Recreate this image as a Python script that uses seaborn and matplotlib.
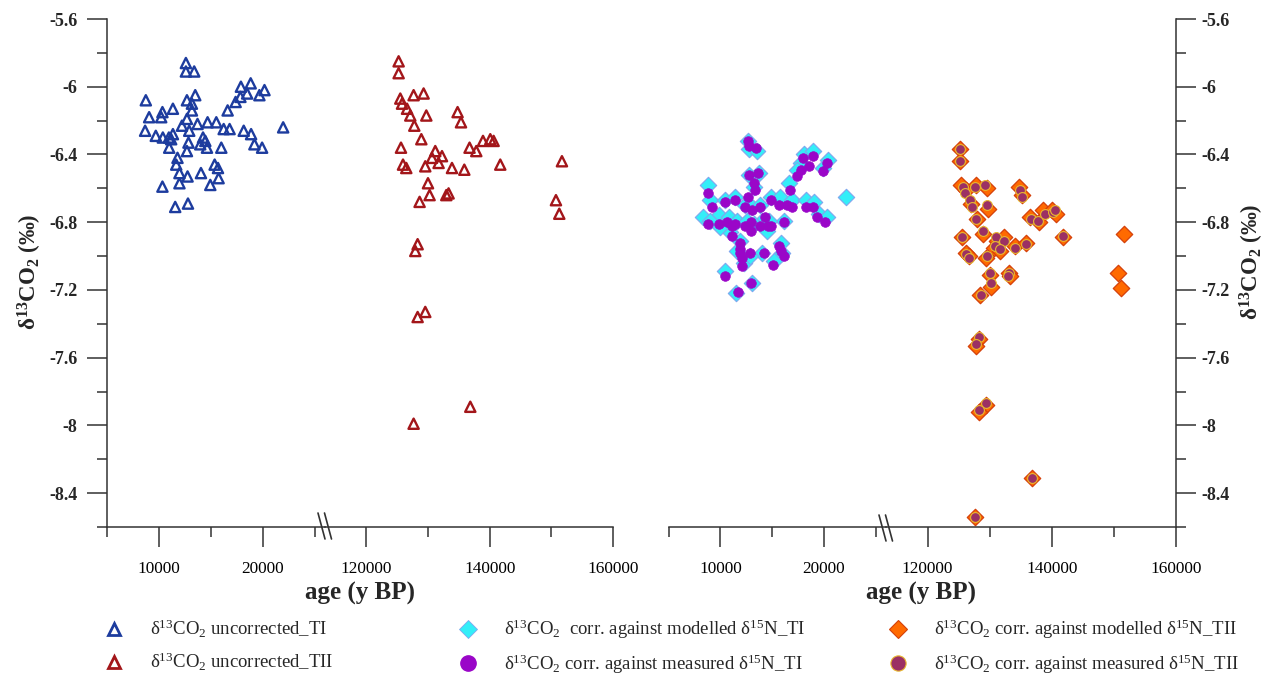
import matplotlib
matplotlib.use("Agg")
import matplotlib.pyplot as plt
from matplotlib.lines import Line2D
from matplotlib.ticker import FuncFormatter
import seaborn as sns

# ----- DATA -----
ti_unc_age = [12600, 12600, 13400, 8740, 17900, 18840, 20170, 19680, 18500, 17850,
              17390, 16620, 13500, 12700, 13180, 13180, 12700, 11350, 10340, 10220,
              9060, 8670, 9700, 10380, 10960, 11350, 10990, 12220, 12920, 13720,
              14690, 15530, 16240, 16810, 18170, 18880, 19200, 19940, 21970, 14250,
              14470, 13980, 14630, 16010, 12850, 12700, 11790, 11670, 15370, 15690,
              11980, 12760, 14050, 15750, 11980, 14950, 10340, 11570, 12800, 11180]
ti_unc_d13c = [-5.86, -5.91, -5.91, -6.08, -6.00, -5.98, -6.02, -6.05, -6.04, -6.06,
               -6.09, -6.14, -6.05, -6.08, -6.10, -6.14, -6.19, -6.13, -6.15, -6.18,
               -6.18, -6.26, -6.29, -6.30, -6.30, -6.28, -6.36, -6.23, -6.26, -6.22,
               -6.21, -6.21, -6.25, -6.25, -6.26, -6.28, -6.34, -6.36, -6.24, -6.30,
               -6.32, -6.34, -6.36, -6.36, -6.33, -6.38, -6.42, -6.46, -6.46, -6.48,
               -6.51, -6.53, -6.51, -6.54, -6.57, -6.58, -6.59, -6.71, -6.69, -6.31]

tii_unc_age = [125240, 125240, 125510, 125790, 127670, 129290, 126600, 127130, 129730, 127780,
               128920, 125620, 134800, 135350, 136740, 137830, 138920, 140100, 140640, 131180,
               130650, 132270, 131720, 129560, 125950, 126480, 133890, 135890, 141720, 151720,
               130000, 130260, 128640, 133340, 132970, 150750, 151290, 128320, 127940, 129560,
               128320, 136860, 127670]
tii_unc_d13c = [-5.85, -5.92, -6.07, -6.10, -6.05, -6.04, -6.13, -6.17, -6.17, -6.23,
                -6.31, -6.36, -6.15, -6.21, -6.36, -6.38, -6.32, -6.31, -6.32, -6.38,
                -6.42, -6.41, -6.45, -6.47, -6.46, -6.48, -6.48, -6.49, -6.46, -6.44,
                -6.57, -6.64, -6.68, -6.63, -6.64, -6.67, -6.75, -6.93, -6.97, -7.33,
                -7.36, -7.89, -7.99]

ti_mod_age = [12640, 12740, 13550, 18080, 18990, 20410, 19870, 17760, 17370, 12740,
              13710, 13220, 16620, 8760, 9020, 10480, 11450, 12420, 13070, 14850,
              15750, 16950, 18240, 19050, 19540, 20280, 8370, 9830, 10800, 11610,
              12580, 14040, 14530, 16140, 10960, 11930, 11610, 15820, 15980, 14040,
              15170, 12250, 12900, 10480, 13070, 11540, 22130, 13220, 13870, 14680,
              9990, 9020]
ti_mod_d13c = [-6.32, -6.37, -6.38, -6.40, -6.38, -6.43, -6.48, -6.45, -6.49, -6.52,
               -6.51, -6.59, -6.57, -6.58, -6.67, -6.67, -6.65, -6.70, -6.71, -6.65,
               -6.65, -6.67, -6.67, -6.68, -6.75, -6.77, -6.77, -6.76, -6.77, -6.79,
               -6.79, -6.79, -6.85, -6.79, -6.86, -6.91, -6.97, -6.92, -6.98, -6.98,
               -7.03, -7.04, -7.00, -7.09, -7.16, -7.22, -6.65, -6.81, -6.70, -6.79,
               -6.83, -6.79]

ti_meas_age = [12640, 12740, 13490, 18020, 18920, 20280, 19870, 18560, 17760, 17440,
               12810, 13610, 13220, 13320, 12640, 16690, 8850, 9190, 10410, 11380,
               12350, 13070, 13870, 14850, 15650, 16470, 16950, 18240, 18990, 19380,
               20090, 8760, 9830, 10640, 11130, 11450, 12350, 13000, 13000, 13870,
               14360, 14580, 14850, 16140, 11130, 11860, 11860, 15650, 15880, 11860,
               12840, 12100, 14190, 16140, 12100, 15110, 10410, 13000, 11710]
ti_meas_d13c = [-6.32, -6.35, -6.36, -6.42, -6.41, -6.45, -6.50, -6.47, -6.49, -6.53,
                -6.52, -6.51, -6.57, -6.61, -6.65, -6.61, -6.63, -6.71, -6.68, -6.67,
                -6.71, -6.73, -6.71, -6.67, -6.70, -6.70, -6.71, -6.71, -6.71, -6.77,
                -6.80, -6.81, -6.81, -6.80, -6.82, -6.81, -6.82, -6.80, -6.85, -6.82,
                -6.77, -6.82, -6.82, -6.80, -6.88, -6.92, -6.96, -6.94, -6.97, -6.98,
                -6.98, -7.01, -6.98, -7.00, -7.06, -7.05, -7.12, -7.16, -7.21]

tii_mod_age = [125270, 125270, 125440, 126240, 127740, 129570, 127050, 129730, 127950, 134730,
               135280, 136450, 137950, 138610, 140110, 140660, 125600, 128920, 131180, 132260,
               130650, 131610, 134030, 135810, 141730, 126130, 126660, 129470, 130000, 133110,
               133230, 130280, 128500, 128280, 127860, 129470, 128280, 136820, 127580, 151660,
               150700, 151130]
tii_mod_d13c = [-6.37, -6.44, -6.58, -6.61, -6.58, -6.60, -6.69, -6.72, -6.78, -6.59,
                -6.64, -6.77, -6.80, -6.73, -6.73, -6.75, -6.89, -6.87, -6.91, -6.89,
                -6.95, -6.97, -6.94, -6.92, -6.89, -6.98, -7.00, -7.01, -7.11, -7.10,
                -7.12, -7.18, -7.23, -7.49, -7.53, -7.88, -7.92, -8.31, -8.54, -6.87,
                -7.10, -7.19]

tii_meas_age = [125270, 125270, 125690, 125970, 127580, 129310, 126890, 127210, 129630, 127860,
                134840, 135280, 136730, 137790, 138870, 140210, 140490, 125600, 128920, 131080,
                132310, 130810, 131610, 134030, 135810, 141730, 126130, 126660, 129570, 130000,
                133110, 132950, 130280, 128660, 128280, 127860, 129470, 128280, 136820, 127580]
tii_meas_d13c = [-6.37, -6.44, -6.59, -6.63, -6.59, -6.58, -6.67, -6.71, -6.70, -6.78,
                 -6.61, -6.65, -6.78, -6.79, -6.75, -6.74, -6.73, -6.89, -6.85, -6.89,
                 -6.91, -6.94, -6.96, -6.95, -6.93, -6.88, -6.99, -7.01, -7.00, -7.10,
                 -7.10, -7.12, -7.16, -7.23, -7.48, -7.52, -7.87, -7.91, -8.31, -8.54]

# axis setup
Y_MAJOR = [-8.4, -8.0, -7.6, -7.2, -6.8, -6.4, -6.0, -5.6]
Y_MINOR = [-8.6, -8.2, -7.8, -7.4, -7.0, -6.6, -6.2, -5.8]
SEG1 = (5000, 26000)
SEG2 = (113300, 160000)

C_BLUE = "#1d3c9e"
C_RED = "#a3161a"
C_CYAN = "#33eef8"
C_CYAN_EDGE = "#7fa6ee"
C_PURPLE = "#9a06c8"
C_ORANGE = "#ff6a00"
C_ORANGE_EDGE = "#d4400a"
C_MAROON = "#9b3064"
C_MAROON_EDGE = "#e8b830"
C_AXIS = "#333333"

sns.set_theme(style="ticks")
plt.rcParams['font.family'] = ['Liberation Serif', 'DejaVu Serif']
plt.rcParams['mathtext.default'] = 'regular'

W, H = 1278, 675
fig = plt.figure(figsize=(W / 100, H / 100), dpi=100)
Y_TOP, Y_BOT = 19, 527


def add_ax(x0, x1):
    ax = fig.add_axes([x0 / W, 1 - Y_BOT / H, (x1 - x0) / W, (Y_BOT - Y_TOP) / H])
    ax.patch.set_visible(False)
    ax.set_ylim(-8.6, -5.6)
    for s in ax.spines.values():
        s.set_visible(False)
        s.set_color(C_AXIS)
        s.set_linewidth(1.1)
    ax.spines['bottom'].set_visible(True)
    ax.tick_params(axis='both', which='both', direction='out', color=C_AXIS, width=1.1)
    ax.tick_params(axis='both', which='major', length=14.5)
    ax.tick_params(axis='both', which='minor', length=7)
    ax.tick_params(axis='x', labelsize=12.4, pad=10, labelcolor='black')
    ax.xaxis.set_major_formatter(FuncFormatter(lambda v, p: f"{int(v)}"))
    ax.set_yticks(Y_MAJOR)
    ax.set_yticks(Y_MINOR, minor=True)
    ax.yaxis.set_major_formatter(FuncFormatter(lambda v, p: f"{v:g}"))
    ax.tick_params(axis='y', which='both', left=False, labelleft=False)
    ax.set_xlabel("")
    ax.set_ylabel("")
    return ax


ax_l1 = add_ax(107, 325)
ax_l2 = add_ax(325, 613)
ax_r1 = add_ax(668.6, 886)
ax_r2 = add_ax(886, 1176)

for ax in (ax_l1, ax_r1):
    ax.set_xlim(*SEG1)
    ax.set_xticks([10000, 20000])
    ax.set_xticks([5000, 15000, 25000], minor=True)
for ax in (ax_l2, ax_r2):
    ax.set_xlim(*SEG2)
    ax.set_xticks([120000, 140000, 160000])
    ax.set_xticks([130000, 150000], minor=True)

ax_l1.spines['left'].set_visible(True)
ax_l1.tick_params(axis='y', which='both', left=True, labelleft=True, pad=7,
                  labelsize=13)
for t in ax_l1.get_yticklabels():
    t.set_fontweight('bold')
ax_r2.spines['right'].set_visible(True)
ax_r2.tick_params(axis='y', which='both', right=True, labelright=True, pad=4,
                  labelsize=13)
for t in ax_r2.get_yticklabels():
    t.set_fontweight('bold')

# ----- POINTS -----
tri = dict(marker='^', s=54, facecolor='none', linewidth=1.7, clip_on=False, legend=False)
sns.scatterplot(x=ti_unc_age, y=ti_unc_d13c, ax=ax_l1, color=C_BLUE, edgecolor=C_BLUE, **tri)
sns.scatterplot(x=tii_unc_age, y=tii_unc_d13c, ax=ax_l2, color=C_RED, edgecolor=C_RED, **tri)

sns.scatterplot(x=ti_mod_age, y=ti_mod_d13c, ax=ax_r1, marker='D', s=70, color=C_CYAN,
                edgecolor=C_CYAN_EDGE, linewidth=0.8, clip_on=False, legend=False)
sns.scatterplot(x=ti_meas_age, y=ti_meas_d13c, ax=ax_r1, marker='o', s=48, color=C_PURPLE,
                edgecolor=C_PURPLE, linewidth=0.5, clip_on=False, legend=False)
sns.scatterplot(x=tii_mod_age, y=tii_mod_d13c, ax=ax_r2, marker='D', s=70, color=C_ORANGE,
                edgecolor=C_ORANGE_EDGE, linewidth=0.9, clip_on=False, legend=False)
sns.scatterplot(x=tii_meas_age, y=tii_meas_d13c, ax=ax_r2, marker='o', s=50, color=C_MAROON,
                edgecolor=C_MAROON_EDGE, linewidth=0.8, clip_on=False, legend=False)

# ----- AXIS BREAK MARKS -----
for xb, ya, yb in ((325, 513, 539), (886, 515, 541)):
    for dx in (-7, -0.5):
        fig.add_artist(Line2D([(xb + dx) / W, (xb + dx + 7) / W], [1 - ya / H, 1 - yb / H],
                              transform=fig.transFigure, color=C_AXIS, lw=1.2))

# ----- LABELS -----
ylab = "δ$^{13}$CO$_2$ (‰)"
fig.text(30 / W, 1 - 272 / H, ylab, rotation=90, ha='center', va='center',
         fontsize=16.5, fontweight='bold')
fig.text(1252 / W, 1 - 262 / H, ylab, rotation=90, ha='center', va='center',
         fontsize=16.5, fontweight='bold')
fig.text(360 / W, 1 - 593 / H, "age (y BP)", ha='center', va='center',
         fontsize=18, fontweight='bold')
fig.text(921 / W, 1 - 593 / H, "age (y BP)", ha='center', va='center',
         fontsize=18, fontweight='bold')

# ----- LEGEND -----
def tri_h(c):
    return Line2D([], [], marker='^', linestyle='none', markersize=8.5,
                  markerfacecolor='none', markeredgecolor=c, markeredgewidth=2)

h_cols = [
    [(tri_h(C_BLUE), "δ$^{13}$CO$_2$ uncorrected_TI"),
     (tri_h(C_RED), "δ$^{13}$CO$_2$ uncorrected_TII")],
    [(Line2D([], [], marker='D', linestyle='none', markersize=9, markerfacecolor=C_CYAN,
             markeredgecolor=C_CYAN_EDGE, markeredgewidth=0.6),
      "δ$^{13}$CO$_2$  corr. against modelled δ$^{15}$N_TI"),
     (Line2D([], [], marker='o', linestyle='none', markersize=11, markerfacecolor=C_PURPLE,
             markeredgecolor=C_PURPLE),
      "δ$^{13}$CO$_2$ corr. against measured δ$^{15}$N_TI")],
    [(Line2D([], [], marker='D', linestyle='none', markersize=9, markerfacecolor=C_ORANGE,
             markeredgecolor=C_ORANGE_EDGE, markeredgewidth=0.8),
      "δ$^{13}$CO$_2$ corr. against modelled δ$^{15}$N_TII"),
     (Line2D([], [], marker='o', linestyle='none', markersize=11, markerfacecolor=C_MAROON,
             markeredgecolor=C_MAROON_EDGE, markeredgewidth=0.8),
      "δ$^{13}$CO$_2$ corr. against measured δ$^{15}$N_TII")],
]
for x0, col in zip((103, 457, 887), h_cols):
    fig.legend([h for h, _ in col], [l for _, l in col], loc='upper left',
               bbox_to_anchor=(x0 / W, 1 - 618 / H), frameon=False, borderpad=0,
               borderaxespad=0, handlelength=1.2, handletextpad=1.3, labelspacing=0.6,
               fontsize=13.5)

fig.savefig("out.png", dpi=100)
